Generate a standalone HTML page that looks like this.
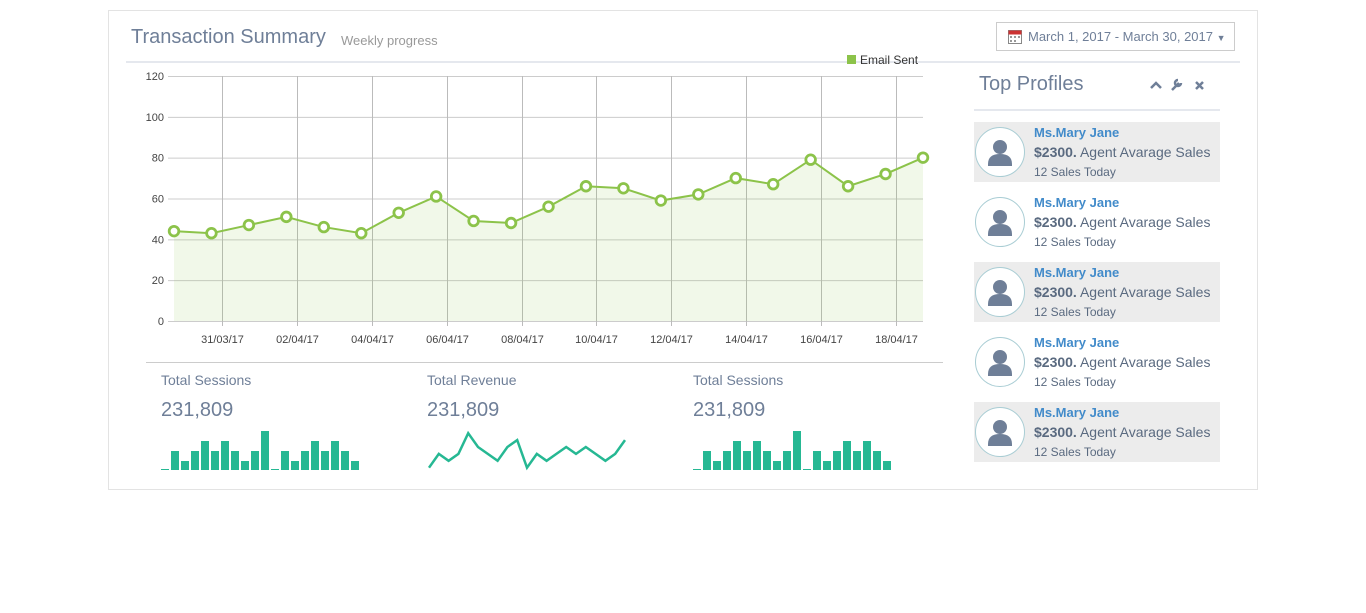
<!DOCTYPE html>
<html><head><meta charset="utf-8"><style>
body{margin:0;width:1366px;height:613px;background:#fff;font-family:"Liberation Sans",sans-serif;position:relative;overflow:hidden}
.abs{position:absolute}
.panel{left:108px;top:10px;width:1148px;height:478px;border:1px solid #e3e3e3}
.title{left:131px;top:26px;font-size:20px;color:#6f7f98}
.sub{left:341px;top:33px;font-size:13px;color:#999}
.hline{height:2px;background:#e5e8ee}
.datebtn{left:996px;top:22px;width:239px;height:29px;border:1px solid #ccc;font-size:13px;color:#6f7f98;line-height:28px;box-sizing:border-box}
.stat-l{font-size:14px;color:#6f7f98}
.stat-v{font-size:20px;color:#6f7f98}
.row{left:974px;width:246px;height:60px}
.row.g{background:#ececec}
.av{position:absolute;left:1px;top:5px;width:48px;height:48px;border-radius:50%;border:1px solid #a9cdd4;background:#fff}
.nm{position:absolute;left:60px;top:3px;font-size:13px;font-weight:bold;color:#428bca}
.l2{position:absolute;left:60px;top:22px;font-size:14px;color:#5a6a80}
.l3{position:absolute;left:60px;top:43px;font-size:12px;color:#5a6a80}
</style></head><body>
<div class="abs panel"></div>
<div class="abs title">Transaction Summary</div>
<div class="abs sub">Weekly progress</div>
<div class="abs datebtn">
<svg class="abs" style="left:11px;top:7px" width="14" height="14"><rect x="0.5" y="0.5" width="13" height="13" fill="#fff" stroke="#888"/><rect x="0.5" y="0.5" width="13" height="4" fill="#c33"/><g fill="#999"><rect x="2" y="6" width="2" height="2"/><rect x="6" y="6" width="2" height="2"/><rect x="10" y="6" width="2" height="2"/><rect x="2" y="10" width="2" height="2"/><rect x="6" y="10" width="2" height="2"/></g></svg>
<span class="abs" style="left:31px;top:0">March 1, 2017 - March 30, 2017 <span style="font-size:9px">▼</span></span></div>
<div class="abs hline" style="left:126px;top:61px;width:1114px"></div>

<svg class="abs" style="left:0;top:0" width="960" height="360" id="chart"></svg>
<div class="abs" style="left:146px;top:362px;width:797px;height:1px;background:#ccc"></div>

<div class="abs stat-l" style="left:161px;top:372px">Total Sessions</div>
<div class="abs stat-v" style="left:161px;top:399px">231,809</div>
<div class="abs stat-l" style="left:427px;top:372px">Total Revenue</div>
<div class="abs stat-v" style="left:427px;top:399px">231,809</div>
<div class="abs stat-l" style="left:693px;top:372px">Total Sessions</div>
<div class="abs stat-v" style="left:693px;top:399px">231,809</div>
<svg class="abs" style="left:0;top:420px" width="960" height="60" id="sparks"></svg>

<div class="abs" style="left:979px;top:73px;font-size:20px;color:#6f7f98">Top Profiles</div>
<svg class="abs" style="left:1148px;top:78px" width="60" height="14">
<path d="M3 10 L8 5 L13 10" stroke="#6f7f98" stroke-width="2.5" fill="none"/>
<path d="M24 12 L31 5 M30 2 a3 3 0 1 0 3 3" stroke="#6f7f98" stroke-width="2.5" fill="none"/>
<path d="M48 4 L55 11 M55 4 L48 11" stroke="#6f7f98" stroke-width="2.5"/>
</svg>
<div class="abs hline" style="left:974px;top:109px;width:246px"></div>
<div id="profiles"></div>

<script>
const values=[44,43,47,51,46,43,53,61,49,48,56,66,65,59,62,70,67,79,66,72,80];
const yTicks=[0,20,40,60,80,100,120];
const xTickLabels=["31/03/17","02/04/17","04/04/17","06/04/17","08/04/17","10/04/17","12/04/17","14/04/17","16/04/17","18/04/17"];
const xTickDays=[1.28,3.28,5.28,7.28,9.28,11.28,13.28,15.28,17.28,19.28];
const barsA=[0,2,1,2,3,2,3,2,1,2,4,0,2,1,2,3,2,3,2,1];
const lineB=[0,2,1,2,5,3,2,1,3,4,0,2,1,2,3,2,3,2,1,2,4];
const barsC=[0,2,1,2,3,2,3,2,1,2,4,0,2,1,2,3,2,3,2,1];
const NS="http://www.w3.org/2000/svg";
function mk(p,t,a){const e=document.createElementNS(NS,t);for(const k in a)e.setAttribute(k,a[k]);p.appendChild(e);return e;}
const svg=document.getElementById('chart');
const x0=174,x1=923,y0=321,y1=76;
const xs=d=>x0+d*(x1-x0)/(values.length-1);
const ys=v=>y0-v*(y0-y1)/120;
yTicks.forEach(t=>{
 const l=mk(svg,'line',{x1:x0-6,x2:x1,y1:ys(t)+.5,y2:ys(t)+.5,stroke:'#ccc'});
 
 
 const tx=mk(svg,'text',{x:x0-10,y:ys(t)+4,'text-anchor':'end','font-size':11,fill:'#444'});tx.textContent=t;
 
 
});
xTickDays.forEach((d,i)=>{
 const x=Math.round(xs(d))+.5;
 const l=mk(svg,'line',{x1:x,x2:x,y1:y1,y2:y0+5,stroke:'#bbb'});
 
 
 const tx=mk(svg,'text',{x:x,y:343,'text-anchor':'middle','font-size':11,fill:'#444'});tx.textContent=xTickLabels[i];
 
 
});
let pts=values.map((v,i)=>xs(i)+','+ys(v)).join(' ');
const area=mk(svg,'polygon',{points:xs(0)+','+y0+' '+pts+' '+xs(values.length-1)+','+y0,fill:'rgba(140,195,74,0.12)'});


const line=mk(svg,'polyline',{points:pts,fill:'none',stroke:'#8cc34a','stroke-width':2});


values.forEach((v,i)=>{const c=mk(svg,'circle',{cx:xs(i),cy:ys(v),r:4.8,fill:'#fff',stroke:'#8cc34a','stroke-width':2.8});
 
 });
const lg=mk(svg,'rect',{x:847,y:55,width:9,height:9,fill:'#8cc34a'});


const lt=mk(svg,'text',{x:860,y:64,'font-size':12,fill:'#333'});lt.textContent='Email Sent';



const sp=document.getElementById('sparks');
function bars(arr,sx,name){arr.forEach((v,i)=>{const h=Math.max(v*10-1,1);
 const r=mk(sp,'rect',{x:sx+i*10,y:50-h,width:8,height:h,fill:'#26b893'});
 
 });}
bars(barsA,161,'sessions-bar');bars(barsC,693,'sessions-bar-2');
const lp=lineB.map((v,i)=>(429+i*9.8)+','+(47.7-v*6.9)).join(' ');
const sl=mk(sp,'polyline',{points:lp,fill:'none',stroke:'#26b893','stroke-width':2.5});



const pr=document.getElementById('profiles');
for(let i=0;i<5;i++){
 const d=document.createElement('div');d.className='abs row'+(i%2==0?' g':'');d.style.top=(122+i*70)+'px';
 
 
 d.innerHTML='<div class="av"><svg width="48" height="48"><circle cx="24" cy="19" r="7" fill="#6f7f98"/><path d="M12 36 q0-10 12-10 q12 0 12 10 v2 h-24z" fill="#6f7f98"/></svg></div><div class="nm">Ms.Mary Jane</div><div class="l2"><b>$2300.</b> Agent Avarage Sales</div><div class="l3">12 Sales Today</div>';
 pr.appendChild(d);
}
</script>
</body></html>
